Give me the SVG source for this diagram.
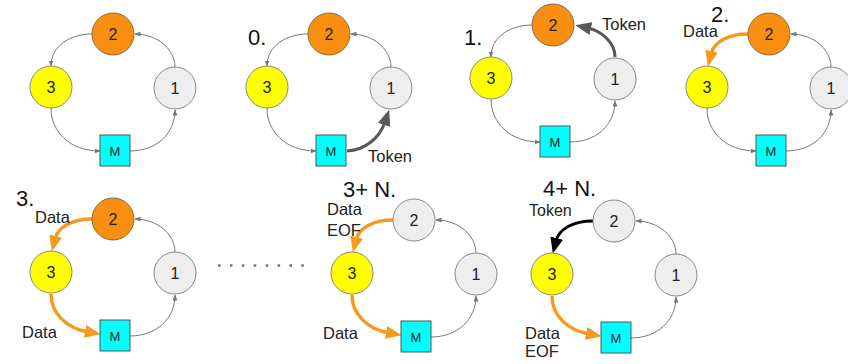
<svg xmlns="http://www.w3.org/2000/svg" xmlns:xlink="http://www.w3.org/1999/xlink" width="848" height="364" viewBox="0 0 848 364">
<defs>
<style>
text{font-family:"Liberation Sans",Arial,sans-serif;fill:#222}
.nl{font-size:16px;text-anchor:middle}
.ml{font-size:13px;text-anchor:middle}
.step{font-size:22px;fill:#111}
.lab{font-size:16.5px}
.or{fill:#f88f10;stroke:#8a6a40;stroke-width:1}
.ye{fill:#ffff00;stroke:#888;stroke-width:1}
.gr{fill:#eeeeee;stroke:#888;stroke-width:1}
.cy{fill:#00ffff;stroke:#555;stroke-width:1}
.thin{fill:none;stroke:#777;stroke-width:1;marker-end:url(#ah)}
.tg{fill:none;stroke:#595959;stroke-width:3;marker-end:url(#ahg)}
.to{fill:none;stroke:#f69a1f;stroke-width:3.5;marker-end:url(#aho)}
.tb{fill:none;stroke:#000;stroke-width:3;marker-end:url(#ahb)}
</style>
<marker id="ah" markerUnits="userSpaceOnUse" markerWidth="6" markerHeight="5" refX="5.5" refY="2.5" orient="auto"><path d="M0,0 L6,2.5 L0,5 z" fill="#777"/></marker>
<marker id="ahg" markerUnits="userSpaceOnUse" markerWidth="16" markerHeight="13" refX="3" refY="6.5" orient="auto"><path d="M0,0 L16,6.5 L0,13 z" fill="#595959"/></marker>
<marker id="aho" markerUnits="userSpaceOnUse" markerWidth="16" markerHeight="13" refX="3" refY="6.5" orient="auto"><path d="M0,0 L16,6.5 L0,13 z" fill="#f69a1f"/></marker>
<marker id="ahb" markerUnits="userSpaceOnUse" markerWidth="16" markerHeight="13" refX="3" refY="6.5" orient="auto"><path d="M0,0 L16,6.5 L0,13 z" fill="#000"/></marker>
</defs>
<rect width="848" height="364" fill="#fff"/>

<!-- Panel 1 -->
<g id="p1" transform="translate(0,0)">
<g id="p1-edges">
<path class="thin" d="M92,34 C70,34 51,46 51,66"/>
<path class="thin" d="M51,108 C51,132 70,151 100,151"/>
<path class="thin" d="M130,151 C156,151 175,134 175,110"/>
<path class="thin" d="M175,67 C175,50 158,34 135,34"/>
</g>
<g id="p1-n2"><circle class="or" cx="113" cy="34" r="21"/><text class="nl" x="113" y="40">2</text></g>
<g id="p1-n3"><circle class="ye" cx="51" cy="87" r="21"/><text class="nl" x="51" y="93">3</text></g>
<g id="p1-n1"><circle class="gr" cx="175" cy="88" r="21"/><text class="nl" x="175" y="94">1</text></g>
<g id="p1-m"><rect class="cy" x="100" y="135" width="30" height="31"/><text class="ml" x="115" y="155.5">M</text></g>
</g>

<!-- Panel 2 -->
<g id="p2" transform="translate(216,0)">
<g id="p2-edges">
<path class="thin" d="M92,34 C70,34 51,46 51,66"/>
<path class="thin" d="M51,108 C51,132 70,151 100,151"/>
<path class="tg" d="M131,151 C150,150 164,137 169,122"/>
<path class="thin" d="M175,67 C175,50 158,34 135,34"/>
</g>
<g id="p2-n2"><circle class="or" cx="113" cy="34" r="21"/><text class="nl" x="113" y="40">2</text></g>
<g id="p2-n3"><circle class="ye" cx="51" cy="87" r="21"/><text class="nl" x="51" y="93">3</text></g>
<g id="p2-n1"><circle class="gr" cx="175" cy="88" r="21"/><text class="nl" x="175" y="94">1</text></g>
<g id="p2-m"><rect class="cy" x="100" y="135" width="30" height="31"/><text class="ml" x="115" y="155.5">M</text></g>
</g>

<!-- Panel 3 -->
<g id="p3" transform="translate(440,-9)">
<g id="p3-edges">
<path class="thin" d="M92,34 C70,34 51,46 51,66"/>
<path class="thin" d="M51,108 C51,132 70,151 100,151"/>
<path class="thin" d="M130,151 C156,151 175,134 175,110"/>
<path class="tg" d="M175,66 C175,52 162,40 148,37"/>
</g>
<g id="p3-n2"><circle class="or" cx="113" cy="34" r="21"/><text class="nl" x="113" y="40">2</text></g>
<g id="p3-n3"><circle class="ye" cx="51" cy="87" r="21"/><text class="nl" x="51" y="93">3</text></g>
<g id="p3-n1"><circle class="gr" cx="175" cy="88" r="21"/><text class="nl" x="175" y="94">1</text></g>
<g id="p3-m"><rect class="cy" x="100" y="135" width="30" height="31"/><text class="ml" x="115" y="155.5">M</text></g>
</g>

<!-- Panel 4 -->
<g id="p4" transform="translate(656,0)">
<g id="p4-edges">
<path class="to" d="M92,34 C72,34 58,42 55,54"/>
<path class="thin" d="M51,108 C51,132 70,151 100,151"/>
<path class="thin" d="M130,151 C156,151 175,134 175,110"/>
<path class="thin" d="M175,67 C175,50 158,34 135,34"/>
</g>
<g id="p4-n2"><circle class="or" cx="113" cy="34" r="21"/><text class="nl" x="113" y="40">2</text></g>
<g id="p4-n3"><circle class="ye" cx="51" cy="87" r="21"/><text class="nl" x="51" y="93">3</text></g>
<g id="p4-n1"><circle class="gr" cx="175" cy="88" r="21"/><text class="nl" x="175" y="94">1</text></g>
<g id="p4-m"><rect class="cy" x="100" y="135" width="30" height="31"/><text class="ml" x="115" y="155.5">M</text></g>
</g>

<!-- Panel 5 -->
<g id="p5" transform="translate(0,185)">
<g id="p5-edges">
<path class="to" d="M92,34 C72,34 58,42 55,54"/>
<path class="to" d="M51,109 C51,128 66,143 88,147"/>
<path class="thin" d="M130,151 C156,151 175,134 175,110"/>
<path class="thin" d="M175,67 C175,50 158,34 135,34"/>
</g>
<g id="p5-n2"><circle class="or" cx="113" cy="34" r="21"/><text class="nl" x="113" y="40">2</text></g>
<g id="p5-n3"><circle class="ye" cx="51" cy="87" r="21"/><text class="nl" x="51" y="93">3</text></g>
<g id="p5-n1"><circle class="gr" cx="175" cy="88" r="21"/><text class="nl" x="175" y="94">1</text></g>
<g id="p5-m"><rect class="cy" x="100" y="135" width="30" height="31"/><text class="ml" x="115" y="155.5">M</text></g>
</g>

<!-- Panel 6 -->
<g id="p6" transform="translate(301,186)">
<g id="p6-edges">
<path class="to" d="M92,34 C72,34 58,42 55,54"/>
<path class="to" d="M51,109 C51,128 66,143 88,147"/>
<path class="thin" d="M130,151 C156,151 175,134 175,110"/>
<path class="thin" d="M175,67 C175,50 158,34 135,34"/>
</g>
<g id="p6-n2"><circle class="gr" cx="113" cy="34" r="21"/><text class="nl" x="113" y="40">2</text></g>
<g id="p6-n3"><circle class="ye" cx="51" cy="87" r="21"/><text class="nl" x="51" y="93">3</text></g>
<g id="p6-n1"><circle class="gr" cx="175" cy="88" r="21"/><text class="nl" x="175" y="94">1</text></g>
<g id="p6-m"><rect class="cy" x="100" y="135" width="30" height="31"/><text class="ml" x="115" y="155.5">M</text></g>
</g>

<!-- Panel 7 -->
<g id="p7" transform="translate(501,187)">
<g id="p7-edges">
<path class="tb" d="M92,34 C72,34 58,42 55,54"/>
<path class="to" d="M51,109 C51,128 66,143 88,147"/>
<path class="thin" d="M130,151 C156,151 175,134 175,110"/>
<path class="thin" d="M175,67 C175,50 158,34 135,34"/>
</g>
<g id="p7-n2"><circle class="gr" cx="113" cy="34" r="21"/><text class="nl" x="113" y="40">2</text></g>
<g id="p7-n3"><circle class="ye" cx="51" cy="87" r="21"/><text class="nl" x="51" y="93">3</text></g>
<g id="p7-n1"><circle class="gr" cx="175" cy="88" r="21"/><text class="nl" x="175" y="94">1</text></g>
<g id="p7-m"><rect class="cy" x="100" y="135" width="30" height="31"/><text class="ml" x="115" y="155.5">M</text></g>
</g>

<!-- ellipsis -->
<line x1="218" y1="265.5" x2="304" y2="265.5" stroke="#777" stroke-width="2.6" stroke-dasharray="2.6 9.3"/>

<!-- labels -->
<g id="labels">
<text class="step" x="248" y="45">0.</text>
<text class="lab" x="368" y="162">Token</text>
<text class="step" x="464" y="45">1.</text>
<text class="lab" x="602" y="30">Token</text>
<text class="step" x="711" y="22">2.</text>
<text class="lab" x="683" y="37">Data</text>
<text class="step" x="16" y="206">3.</text>
<text class="lab" x="35" y="223">Data</text>
<text class="lab" x="22" y="338">Data</text>
<text class="step" x="343" y="197">3+ N.</text>
<text class="lab" x="327" y="215">Data</text>
<text class="lab" x="327" y="236">EOF</text>
<text class="lab" x="323" y="339">Data</text>
<text class="step" x="543" y="196">4+ N.</text>
<text class="lab" x="529" y="216" style="font-size:16px">Token</text>
<text class="lab" x="525" y="339">Data</text>
<text class="lab" x="525" y="357">EOF</text>
</g>
</svg>
